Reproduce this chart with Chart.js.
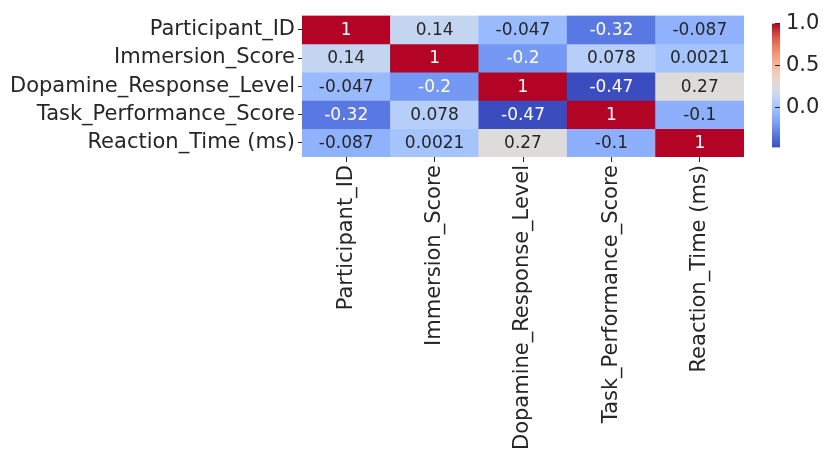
<!doctype html>
<html>
<head>
<meta charset="utf-8">
<script src="https://cdn.jsdelivr.net/npm/chart.js"></script>
<style>
  body { margin: 0; background: #fff; }
  #wrap { position: relative; width: 823px; height: 455px; }
  #heat { position: absolute; left: 0; top: 0; }
  #cbar { position: absolute; left: 760px; top: 0; }
</style>
</head>
<body>
<div id="wrap">
  <canvas id="heat" width="823" height="455"></canvas>
  <canvas id="cbar" width="63" height="171"></canvas>
</div>
<script>
// correlation matrix, rows top to bottom, columns left to right
const variables = ['Participant_ID', 'Immersion_Score', 'Dopamine_Response_Level', 'Task_Performance_Score', 'Reaction_Time (ms)'];
const corr = [
  [1, 0.14, -0.047, -0.32, -0.087],
  [0.14, 1, -0.2, 0.078, 0.0021],
  [-0.047, -0.2, 1, -0.47, 0.27],
  [-0.32, 0.078, -0.47, 1, -0.1],
  [-0.087, 0.0021, 0.27, -0.1, 1]
];
const colorbarTicks = [0, 0.5, 1.0];
const vmin = -0.47;
const vmax = 1;

// coolwarm sampled at 11 even steps
const coolwarm = ['#3b4cc0', '#5977e3', '#7b9ff9', '#9ebeff', '#c0d4f5', '#dddcdc',
                  '#f2cbb7', '#f7ac8e', '#ee8468', '#d65244', '#b40426'];
const hexRgb = h => [1, 3, 5].map(i => parseInt(h.substr(i, 2), 16));

function cmapRgb(t) {
  t = Math.min(1, Math.max(0, t)) * (coolwarm.length - 1);
  const i = Math.min(Math.floor(t), coolwarm.length - 2);
  const f = t - i;
  const a = hexRgb(coolwarm[i]), b = hexRgb(coolwarm[i + 1]);
  return a.map((v, k) => Math.round(v + (b[k] - v) * f));
}
const toCss = c => 'rgb(' + c.join(',') + ')';
const colorFor = v => toCss(cmapRgb((v - vmin) / (vmax - vmin)));

function luminance(c) {
  const lin = c.map(x => {
    x /= 255;
    return x <= 0.03928 ? x / 12.92 : Math.pow((x + 0.055) / 1.055, 2.4);
  });
  return 0.2126 * lin[0] + 0.7152 * lin[1] + 0.0722 * lin[2];
}

const FONT = 'DejaVu Sans';
const TEXT = '#262626';

// one dataset per row, each cell is a floating bar [row, row + 1]
const datasets = corr.map((row, r) => ({
  label: variables[r],
  data: row.map(() => [r, r + 1]),
  backgroundColor: row.map(colorFor),
  borderWidth: 0,
  barPercentage: 1,
  categoryPercentage: 1
}));

const annotate = {
  id: 'annotate',
  afterDatasetsDraw(chart) {
    const ctx = chart.ctx;
    ctx.save();
    ctx.font = '17px "' + FONT + '"';
    ctx.textAlign = 'center';
    ctx.textBaseline = 'middle';
    chart.data.datasets.forEach((ds, r) => {
      chart.getDatasetMeta(r).data.forEach((bar, c) => {
        const v = corr[r][c];
        const lum = luminance(cmapRgb((v - vmin) / (vmax - vmin)));
        ctx.fillStyle = lum > 0.408 ? TEXT : '#ffffff';
        ctx.fillText(String(v), bar.x, (bar.y + bar.base) / 2 + 1);
      });
    });
    ctx.restore();
  }
};

new Chart(document.getElementById('heat'), {
  type: 'bar',
  data: { labels: variables, datasets },
  plugins: [annotate],
  options: {
    responsive: false,
    animation: false,
    layout: { padding: { left: 0, right: 79, top: 14, bottom: 0 } },
    plugins: { legend: { display: false }, tooltip: { enabled: false } },
    scales: {
      x: {
        stacked: true,
        grid: { display: true, drawOnChartArea: false, offset: false, tickLength: 5, color: TEXT, tickWidth: 1 },
        border: { display: false },
        ticks: { minRotation: 90, maxRotation: 90, autoSkip: false, padding: 3, color: TEXT, font: { family: FONT, size: 21 } },
        afterFit(scale) { scale.height = 455 - 157; }
      },
      y: {
        type: 'linear',
        min: 0,
        max: 5,
        reverse: true,
        grid: { display: true, drawOnChartArea: false, tickLength: 4, color: TEXT, tickWidth: 1 },
        border: { display: false },
        afterBuildTicks(scale) {
          scale.ticks = variables.map((_, i) => ({ value: i + 0.5 }));
        },
        ticks: {
          padding: 3,
          color: TEXT,
          font: { family: FONT, size: 21 },
          callback: (v, i) => variables[i]
        },
        afterFit(scale) { scale.width = 302; }
      }
    }
  }
});

// colour bar: one floating bar spanning the data range, filled with the colormap
function barGradient(context) {
  const chart = context.chart;
  const area = chart.chartArea;
  if (!area) return null;
  const y = chart.scales.y;
  const g = chart.ctx.createLinearGradient(0, y.getPixelForValue(vmin), 0, y.getPixelForValue(vmax));
  coolwarm.forEach((c, i) => g.addColorStop(i / (coolwarm.length - 1), c));
  return g;
}

new Chart(document.getElementById('cbar'), {
  type: 'bar',
  data: {
    labels: [''],
    datasets: [{
      data: [[vmin, vmax]],
      backgroundColor: barGradient,
      borderWidth: 0,
      barPercentage: 1,
      categoryPercentage: 1
    }]
  },
  options: {
    responsive: false,
    animation: false,
    layout: { padding: { left: 12, right: 0, top: 14, bottom: 14 } },
    plugins: { legend: { display: false }, tooltip: { enabled: false } },
    scales: {
      x: { display: false },
      y: {
        position: 'right',
        min: vmin,
        max: vmax,
        // tick marks sit just inside the right edge of the bar
        grid: { display: true, drawOnChartArea: false, tickLength: -5, color: TEXT, z: 1 },
        border: { display: false },
        afterBuildTicks(scale) {
          scale.ticks = colorbarTicks.map(v => ({ value: v }));
        },
        ticks: {
          padding: 11,
          color: TEXT,
          font: { family: FONT, size: 21 },
          callback: v => v.toFixed(1)
        },
        afterFit(scale) { scale.width = 43; }
      }
    }
  }
});
</script>
</body>
</html>
